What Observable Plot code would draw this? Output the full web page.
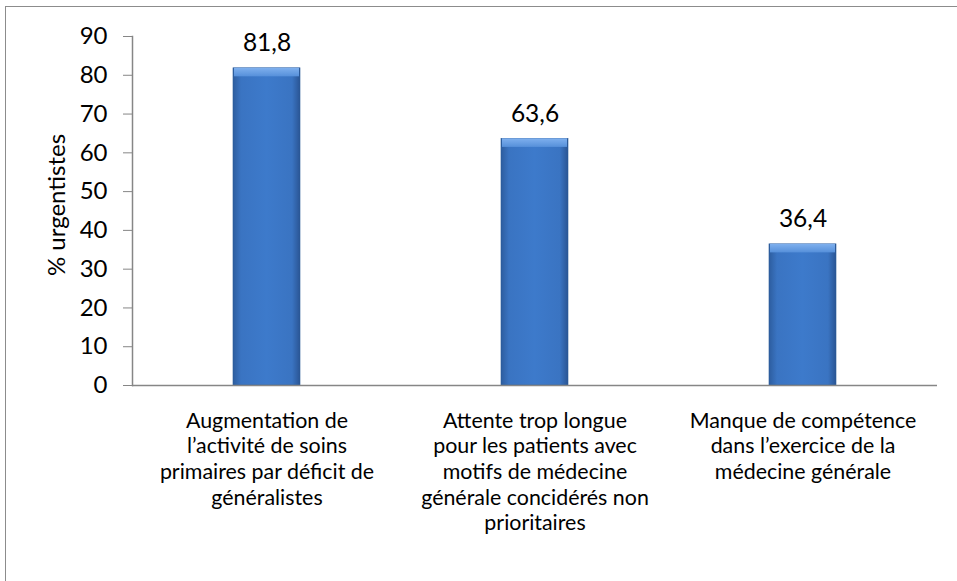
<!DOCTYPE html>
<html>
<head>
<meta charset="utf-8">
<script src="https://cdn.jsdelivr.net/npm/d3@7"></script>
<script src="https://cdn.jsdelivr.net/npm/@observablehq/plot@0.6"></script>
<style>
  html, body { margin: 0; padding: 0; background: #fff; overflow: hidden; }
  #wrap { position: relative; width: 957px; height: 581px; overflow: hidden; }
  #frame { position: absolute; left: 5px; top: 6px; width: 1000px; height: 1000px; border: 1.5px solid #8c8c8c; box-sizing: border-box; pointer-events: none; }
  #chart { position: absolute; left: 0; top: 0; }
</style>
</head>
<body>
<div id="wrap">
  <div id="chart"></div>
  <div id="frame"></div>
</div>
<script>
const categories = [
  "Augmentation de\nl\u2019activit\u00e9 de soins\nprimaires par d\u00e9ficit de\ng\u00e9n\u00e9ralistes",
  "Attente trop longue\npour les patients avec\nmotifs de m\u00e9decine\ng\u00e9n\u00e9rale concid\u00e9r\u00e9s non\nprioritaires",
  "Manque de comp\u00e9tence\ndans l\u2019exercice de la\nm\u00e9decine g\u00e9n\u00e9rale"
];
const values = [81.8, 63.6, 36.4];
const valueLabels = ["81,8", "63,6", "36,4"];
const yTicks = [0, 10, 20, 30, 40, 50, 60, 70, 80, 90];
const yLabel = "% urgentistes";

const data = categories.map((c, i) => ({cat: c, v: values[i], label: valueLabels[i]}));
const font = "Lato, 'Open Sans', sans-serif";

const chart = Plot.plot({
  width: 957,
  height: 581,
  marginLeft: 132,
  marginRight: 20,
  marginTop: 36,
  marginBottom: 196,
  style: {fontFamily: font, fontSize: "22px", color: "#000", background: "transparent"},
  x: {domain: categories, paddingInner: 0.75, paddingOuter: 0.375, label: null},
  y: {domain: [0, 90], label: null},
  marks: [
    Plot.axisY({ticks: yTicks, tickSize: 9, tickPadding: 16, stroke: "#868686", strokeOpacity: 1, fontSize: 24, fill: "#000", label: null, tickFormat: d => String(d)}),
    Plot.frame({anchor: "left", stroke: "#868686", strokeWidth: 1.5}),
    Plot.barY(data, {x: "cat", y: "v", fill: "url(#barGrad)", stroke: "#2a5a98", strokeWidth: 0.6, style: "filter:url(#shadow)"}),
    Plot.barY(data, {x: "cat", y1: d => d.v - 2.2, y2: "v", fill: "url(#topGrad)", insetLeft: 1, insetRight: 1}),
    Plot.text(data, {x: "cat", y: "v", text: "label", dy: -25, fontSize: 24.5, fill: "#000"}),
    Plot.ruleY([0], {stroke: "#868686", strokeWidth: 1.5}),
    Plot.axisX({tickSize: 0, tickPadding: 24, fontSize: 21.4, lineHeight: 1.2, label: null, textAnchor: "middle", fill: "#000"}),
    Plot.text([yLabel], {frameAnchor: "left", rotate: -90, dx: -75, dy: -6, textAnchor: "middle", lineAnchor: "middle", fontSize: 24, fill: "#000"})
  ]
});

const svg = d3.select(chart);
const defs = svg.insert("defs", ":first-child");
const g = defs.append("linearGradient").attr("id", "barGrad").attr("x1", "0").attr("x2", "1").attr("y1", "0").attr("y2", "0");
g.append("stop").attr("offset", "0%").attr("stop-color", "#2d5d9f");
g.append("stop").attr("offset", "12%").attr("stop-color", "#3a74c2");
g.append("stop").attr("offset", "50%").attr("stop-color", "#3d7acb");
g.append("stop").attr("offset", "88%").attr("stop-color", "#3a74c2");
g.append("stop").attr("offset", "100%").attr("stop-color", "#2a5594");
const t = defs.append("linearGradient").attr("id", "topGrad").attr("x1", "0").attr("x2", "0").attr("y1", "0").attr("y2", "1");
t.append("stop").attr("offset", "0%").attr("stop-color", "#7fb0ee");
t.append("stop").attr("offset", "100%").attr("stop-color", "#5690da");
const f = defs.append("filter").attr("id", "shadow").attr("x", "-20%").attr("y", "-10%").attr("width", "140%").attr("height", "120%");
f.append("feDropShadow").attr("dx", 0).attr("dy", 3).attr("stdDeviation", 2.5).attr("flood-color", "#000").attr("flood-opacity", 0.3);

document.getElementById("chart").appendChild(chart);
</script>
</body>
</html>
